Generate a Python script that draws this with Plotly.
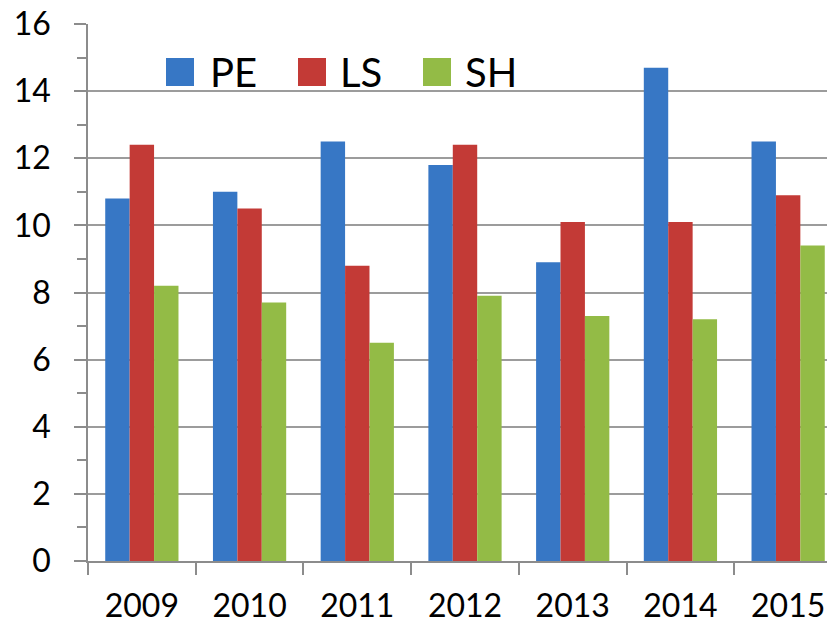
import plotly.graph_objects as go

# Dados
anos = ["2009", "2010", "2011", "2012", "2013", "2014", "2015"]
pe = [10.8, 11.0, 12.5, 11.8, 8.9, 14.7, 12.5]
ls = [12.4, 10.5, 8.8, 12.4, 10.1, 10.1, 10.9]
sh = [8.2, 7.7, 6.5, 7.9, 7.3, 7.2, 9.4]

series = [("PE", pe, "#3777c5"), ("LS", ls, "#c33a36"), ("SH", sh, "#93bb46")]

# a página tem 8px de margem no body: a figura começa em (8, 8)
OFF = 8
W, H = 835 - OFF, 621 - OFF
L, T, B = 88 - OFF, 24 - OFF, 60
plot_w = W - L
plot_h = H - T - B


def px_x(x):
    # x da tela -> coordenada paper
    return (x - OFF - L) / plot_w


def px_y(y):
    return (H - B - (y - OFF)) / plot_h


fig = go.Figure()
for nome, vals, cor in series:
    fig.add_trace(go.Bar(x=anos, y=vals, name=nome, marker=dict(color=cor, line=dict(width=0)),
                         showlegend=False))

# Legenda desenhada à mão (quadrados grandes como no original)
leg_sq = [166, 298, 423]
leg_txt = [208, 338, 463]
for (nome, _, cor), xs, xt in zip(series, leg_sq, leg_txt):
    fig.add_shape(type="rect", xref="paper", yref="paper",
                  x0=px_x(xs), x1=px_x(xs + 28), y0=px_y(86), y1=px_y(58),
                  fillcolor=cor, line=dict(width=0))
    fig.add_annotation(x=px_x(xt), y=px_y(72), xref="paper", yref="paper",
                       text=nome, showarrow=False, xanchor="left", yanchor="middle",
                       font=dict(size=40, color="black"))

fig.update_layout(
    width=W, height=H,
    margin=dict(l=L, r=0, t=T, b=B),
    paper_bgcolor="white", plot_bgcolor="white",
    font=dict(family="Lato, 'Open Sans', sans-serif", color="black", size=32),
    barmode="group", bargap=0.32, bargroupgap=0,
)

fig.update_xaxes(
    type="category", range=[-0.5, 6.435], automargin=False,
    showline=True, linecolor="#8c8c8c", linewidth=1.5,
    ticks="outside", tickson="boundaries", ticklen=12, tickcolor="#8c8c8c", tickwidth=1.5,
    ticklabelstandoff=16, ticklabeloverflow="allow", showgrid=False,
    tickfont=dict(size=32),
)
fig.update_yaxes(
    range=[0, 16], dtick=2, automargin=False,
    showline=True, linecolor="#8c8c8c", linewidth=1.5,
    showgrid=True, gridcolor="#9c9c9c", gridwidth=1.5, zeroline=False,
    ticks="outside", ticklen=12, tickcolor="#8c8c8c", tickwidth=1.5,
    minor=dict(dtick=1, ticks="outside", ticklen=9, tickcolor="#8c8c8c", tickwidth=1.5, showgrid=False),
    ticklabelstandoff=17, ticklabeloverflow="allow",
    tickfont=dict(size=32),
)

fig.write_html("out.html")
